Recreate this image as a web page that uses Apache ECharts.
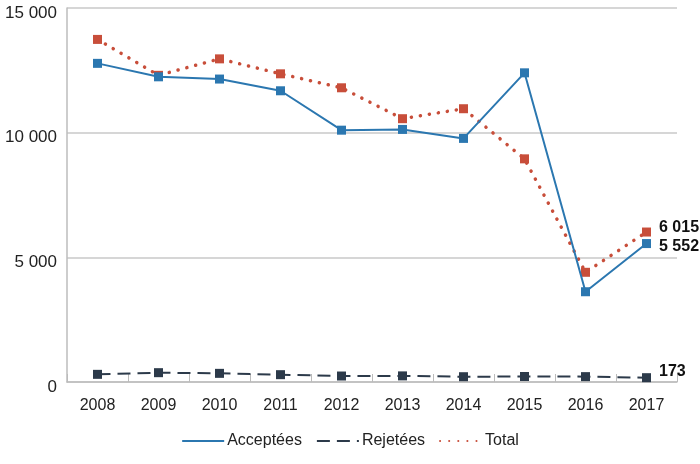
<!DOCTYPE html>
<html><head><meta charset="utf-8">
<script src="https://cdn.jsdelivr.net/npm/echarts@6/dist/echarts.min.js"></script>
<style>html,body{margin:0;padding:0;background:#fff}#c{width:700px;height:464px}</style>
</head><body><div id="c"></div>
<script>
const years = ['2008','2009','2010','2011','2012','2013','2014','2015','2016','2017'];
const acceptees = [12780, 12240, 12150, 11680, 10100, 10130, 9770, 12400, 3620, 5552];
const rejetees = [307, 374, 347, 294, 240, 245, 212, 220, 215, 173];
const total = [13740, 12300, 12960, 12360, 11800, 10560, 10960, 8950, 4400, 6015];
const yTicks = [0, 5000, 10000, 15000];

const fmt = v => String(v).replace(/\B(?=(\d{3})+(?!\d))/g, ' ');
const FONT = "'Liberation Sans', Arial, sans-serif";
const endLabel = (dy) => ({
  show: true, position: 'right', distance: 8, offset: [0, dy],
  fontFamily: FONT, fontWeight: 'bold', fontSize: 16, color: '#111',
  formatter: p => p.dataIndex === years.length - 1 ? fmt(p.value) : ''
});

const chart = echarts.init(document.getElementById('c'));
chart.setOption({
  animation: false,
  grid: { left: 67, right: 23, top: 8, bottom: 82, containLabel: false },
  legend: {
    bottom: 10, left: 'center', itemWidth: 42, itemHeight: 12, itemGap: 14,
    textStyle: { fontFamily: FONT, fontSize: 16, color: '#222', padding: [0, 0, 0, -2] },
    itemStyle: { opacity: 0 },
    data: ['Acceptées', 'Rejetées', 'Total']
  },
  xAxis: {
    type: 'category', data: years, boundaryGap: true,
    axisLine: { lineStyle: { color: '#bdbdbd', width: 1.5 } },
    axisTick: { show: true, inside: true, length: 8, lineStyle: { color: '#bbbbbb' } },
    axisLabel: { fontFamily: FONT, fontSize: 16, color: '#222', margin: 16 }
  },
  yAxis: {
    type: 'value', min: 0, max: 15000, interval: 5000,
    axisLine: { show: true, lineStyle: { color: '#bdbdbd', width: 1.5 } },
    axisTick: { show: false },
    splitLine: { lineStyle: { color: '#c8c8c8', width: 1.5 } },
    axisLabel: { fontFamily: FONT, fontSize: 17, color: '#222', margin: 10,
      verticalAlign: 'top', lineHeight: 10,
      formatter: v => yTicks.includes(v) ? fmt(v) : '' }
  },
  series: [
    { name: 'Acceptées', type: 'line', data: acceptees, symbol: 'rect', symbolSize: 9,
      itemStyle: { color: '#2b77b0' }, lineStyle: { color: '#2b77b0', width: 2 },
      label: endLabel(3), z: 3 },
    { name: 'Rejetées', type: 'line', data: rejetees, symbol: 'rect', symbolSize: 9,
      itemStyle: { color: '#2c3a4a' }, lineStyle: { color: '#2c3a4a', width: 2, type: [13, 7] },
      label: endLabel(-6), z: 2 },
    { name: 'Total', type: 'line', data: total, symbol: 'rect', symbolSize: 9,
      itemStyle: { color: '#c84e3a' }, lineStyle: { color: '#c84e3a', width: 3.5, type: [0.1, 9], cap: 'round' },
      label: endLabel(-4), z: 2 }
  ]
});
</script></body></html>
